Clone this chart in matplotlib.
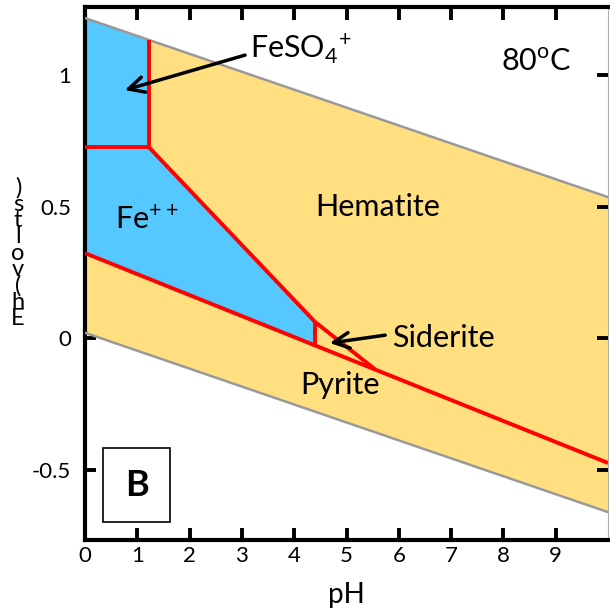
import matplotlib
matplotlib.use('Agg')
import matplotlib.pyplot as plt
from matplotlib.patches import Polygon, Rectangle

plt.rcParams['font.family'] = ['Lato', 'DejaVu Sans']

# ---------------- data ----------------
x_ticks = [0, 1, 2, 3, 4, 5, 6, 7, 8, 9]
x_tick_labels = ['0', '1', '2', '3', '4', '5', '6', '7', '8', '9']
y_ticks = [-0.5, 0, 0.5, 1]
y_tick_labels = ['-0.5', '0', '0.5', '1']

ph_ends = [0, 10]
water_upper_E = [1.217, 0.536]
water_lower_E = [0.020, -0.662]

# red stability-field boundaries (pH list, Eh list)
feso4_fe_pH, feso4_fe_E = [0, 1.22], [0.726, 0.726]
feso4_hem_pH, feso4_hem_E = [1.22, 1.22], [0.726, 1.134]
fe_hem_pH, fe_hem_E = [1.22, 4.40], [0.726, 0.061]
sid_hem_pH, sid_hem_E = [4.40, 5.54], [0.061, -0.118]
fe_sid_pH, fe_sid_E = [4.40, 4.40], [0.061, -0.028]
pyr_pH, pyr_E = [0, 10], [0.323, -0.475]

# y label as it appears: characters of "Eh (volts)" stacked bottom-to-top
ylabel_chars = ['E', 'h', '(', 'v', 'o', 'l', 't', 's', ')']

yellow = '#FFDF80'
blue = '#55C8FF'
red = '#FF0000'
gray = '#999999'

# ---------------- figure ----------------
W, H = 610, 613
fig = plt.figure(figsize=(W / 100, H / 100), dpi=100)
ax = fig.add_axes([85 / W, (H - 540) / H, (608 - 85) / W, (540 - 7) / H])
ax.set_xlim(0, 10)
ax.set_ylim(-0.768, 1.259)

# stability field (yellow) between water lines
ax.add_patch(Polygon([(ph_ends[0], water_upper_E[0]), (ph_ends[1], water_upper_E[1]),
                      (ph_ends[1], water_lower_E[1]), (ph_ends[0], water_lower_E[0])],
                     closed=True, facecolor=yellow, edgecolor='none', zorder=1))

# blue field (FeSO4+ and Fe++)
blue_poly = [(ph_ends[0], water_upper_E[0]),
             (feso4_hem_pH[1], feso4_hem_E[1]),
             (fe_hem_pH[0], fe_hem_E[0]),
             (fe_hem_pH[1], fe_hem_E[1]),
             (fe_sid_pH[1], fe_sid_E[1]),
             (pyr_pH[0], pyr_E[0])]
ax.add_patch(Polygon(blue_poly, closed=True, facecolor=blue, edgecolor='none', zorder=2))

# water lines
ax.plot(ph_ends, water_upper_E, color=gray, lw=1.8, zorder=3)
ax.plot(ph_ends, water_lower_E, color=gray, lw=1.8, zorder=3)

# red boundaries
for px_, ey_ in [(feso4_fe_pH, feso4_fe_E), (feso4_hem_pH, feso4_hem_E),
                 (fe_hem_pH, fe_hem_E), (sid_hem_pH, sid_hem_E),
                 (fe_sid_pH, fe_sid_E), (pyr_pH, pyr_E)]:
    ax.plot(px_, ey_, color=red, lw=2.8, solid_capstyle='butt', zorder=4)

# labels
fs = 22
ax.text(3.15, 1.10, 'FeSO$_\\mathregular{4}$$^\\mathregular{+}$', fontsize=fs, ha='left', va='center', zorder=6)
ax.annotate('', xy=(0.76, 0.943), xytext=(3.06, 1.076),
            arrowprops=dict(arrowstyle='->', lw=2.5, color='black', mutation_scale=28, shrinkA=0, shrinkB=0), zorder=6)
ax.text(7.95, 1.05, '80$^\\mathregular{o}$C', fontsize=fs, ha='left', va='center', zorder=6)
ax.text(5.6, 0.50, 'Hematite', fontsize=fs, ha='center', va='center', zorder=6)
ax.text(0.58, 0.45, 'Fe$^\\mathregular{++}$', fontsize=fs, ha='left', va='center', zorder=6)
ax.text(5.87, 0.0, 'Siderite', fontsize=fs, ha='left', va='center', zorder=6)
ax.annotate('', xy=(4.68, -0.019), xytext=(5.74, 0.011),
            arrowprops=dict(arrowstyle='->', lw=2.5, color='black', mutation_scale=28, shrinkA=0, shrinkB=0), zorder=6)
ax.text(4.88, -0.18, 'Pyrite', fontsize=fs, ha='center', va='center', zorder=6)

# panel letter box
ax.add_patch(Rectangle((0.34, -0.70), 1.29, 0.28, facecolor='white', edgecolor='black', lw=1.2, zorder=6))
ax.text(0.985, -0.56, 'B', fontsize=26, fontweight='bold', ha='center', va='center', zorder=7)

# axes styling
for s in ['left', 'bottom', 'top']:
    ax.spines[s].set_linewidth(3)
    ax.spines[s].set_color('black')
ax.spines['right'].set_linewidth(0.8)
ax.spines['right'].set_color('#b0b0b0')

ax.set_xticks(x_ticks)
ax.set_xticklabels(x_tick_labels)
ax.set_yticks(y_ticks)
ax.set_yticklabels(y_tick_labels)
ax.tick_params(axis='x', direction='in', length=9, width=2.8, labelsize=16, pad=4, top=True)
ax.tick_params(axis='y', direction='in', length=8, width=2.8, labelsize=16, pad=10, right=True)
ax.set_xlabel('pH', fontsize=20, labelpad=12)

fig.text(18 / W, 1 - 253 / H, '\n'.join(reversed(ylabel_chars)), fontsize=17,
         ha='center', va='center', multialignment='center', linespacing=0.72)

fig.savefig('out.png', dpi=100)
